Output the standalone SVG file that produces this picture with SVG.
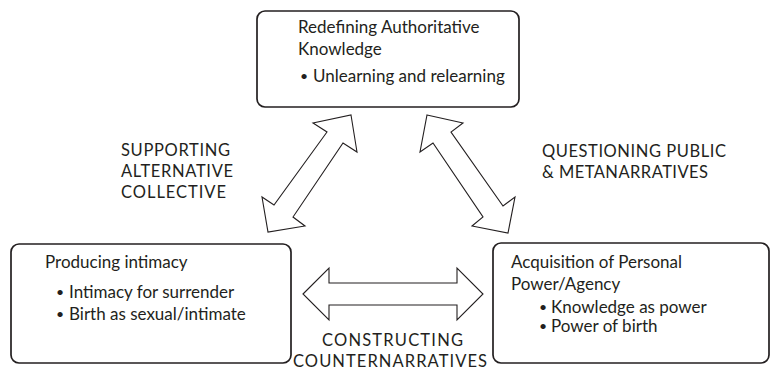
<svg xmlns="http://www.w3.org/2000/svg" width="773" height="371" viewBox="0 0 773 371">
<style>
.box{fill:#fff;stroke:#231f20;stroke-width:1.7}
.arr{fill:#fff;stroke:#231f20;stroke-width:1.1;stroke-linejoin:miter}
text{font-family:Lato,"Open Sans","Liberation Sans",sans-serif;fill:#231f20;font-size:17px}
.lbl{font-size:16.5px}
.bul{font-size:14px}
</style>
<rect width="773" height="371" fill="#fff"/>
<g id="connectors">
<polygon class="arr" points="351,115 357,152 343,143 293,217 305,226 268,232 262,197 274,205 327,132 313,123"/>
<polygon class="arr" points="427,115 463,123 451,132 503,206 515,197 508,233 472,226 483,217 433,143 420,152"/>
<polygon class="arr" points="303,294 329,268 329,283 457,283 457,268 483,294 457,320 457,305 329,305 329,320"/>
</g>
<g id="labels">
<text class="lbl" x="121" y="156" textLength="109" lengthAdjust="spacing">SUPPORTING</text>
<text class="lbl" x="121" y="177" textLength="112" lengthAdjust="spacing">ALTERNATIVE</text>
<text class="lbl" x="121" y="198" textLength="105" lengthAdjust="spacing">COLLECTIVE</text>
<text class="lbl" x="542" y="157" textLength="184" lengthAdjust="spacing">QUESTIONING PUBLIC</text>
<text class="lbl" x="542" y="178" textLength="166" lengthAdjust="spacing">&amp; METANARRATIVES</text>
<text class="lbl" x="322" y="346" textLength="141" lengthAdjust="spacing">CONSTRUCTING</text>
<text class="lbl" x="293" y="367" textLength="194" lengthAdjust="spacing">COUNTERNARRATIVES</text>
</g>
<g id="node-top">
<rect class="box" x="257" y="11" width="262" height="96" rx="8"/>
<text x="298" y="33">Redefining Authoritative</text>
<text x="298" y="55">Knowledge</text>
<text class="bul" x="300" y="81">•</text>
<text x="313" y="82">Unlearning and relearning</text>
</g>
<g id="node-left">
<rect class="box" x="11" y="244" width="280" height="119" rx="8"/>
<text x="45" y="268">Producing intimacy</text>
<text class="bul" x="56" y="297">•</text>
<text x="69" y="298">Intimacy for surrender</text>
<text class="bul" x="56" y="319">•</text>
<text x="69" y="320">Birth as sexual/intimate</text>
</g>
<g id="node-right">
<rect class="box" x="493" y="243" width="276" height="120" rx="8"/>
<text x="511" y="268">Acquisition of Personal</text>
<text x="511" y="290">Power/Agency</text>
<text class="bul" x="539" y="312">•</text>
<text x="551" y="313">Knowledge as power</text>
<text class="bul" x="539" y="331">•</text>
<text x="551" y="332">Power of birth</text>
</g>
</svg>
